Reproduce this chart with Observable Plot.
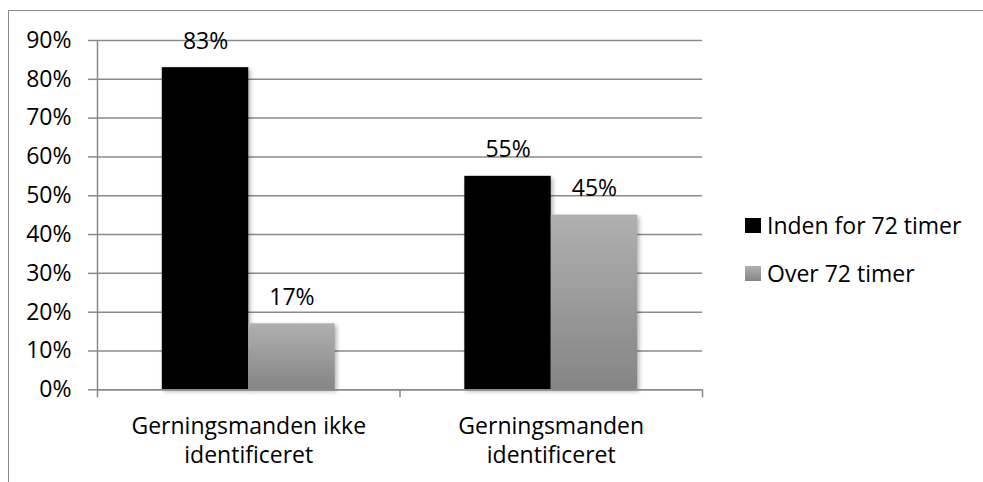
<!DOCTYPE html>
<html>
<head>
<meta charset="utf-8">
<script src="https://cdn.jsdelivr.net/npm/d3@7"></script>
<script src="https://cdn.jsdelivr.net/npm/@observablehq/plot@0.6"></script>
<style>
  html, body { margin: 0; padding: 0; background: #fff; }
  #wrap { position: relative; width: 983px; height: 482px; overflow: hidden; font-family: "Open Sans", sans-serif; }
  #frame { position: absolute; left: 8px; top: 10px; width: 1200px; height: 800px;
           border-left: 1.5px solid #8a8a8a; border-top: 1.5px solid #8a8a8a; pointer-events: none; }
  #legend { position: absolute; left: 745px; top: 201px; font-size: 23px; color: #000; }
  .item { display: flex; align-items: center; height: 48px; }
  .sw { width: 16px; height: 15px; margin-right: 6px; margin-top: 1px; }
  svg rect.bar { filter: drop-shadow(2px 2px 2px rgba(0,0,0,0.3)); }
</style>
</head>
<body>
<div id="wrap"><div id="chart"></div><div id="frame"></div><div id="legend"></div></div>
<script>
const categories = ["Gerningsmanden ikke\nidentificeret", "Gerningsmanden\nidentificeret"];
const seriesNames = ["Inden for 72 timer", "Over 72 timer"];
const within72 = [0.83, 0.55];
const over72 = [0.17, 0.45];
const yTicks = [0, 0.1, 0.2, 0.3, 0.4, 0.5, 0.6, 0.7, 0.8, 0.9];

const seriesValues = [within72, over72];
const fills = ["#000000", "url(#grayGrad)"];
const barFrac = 1 / 3.5;      // Excel gap width 150%
const gapFrac = 0.75 / 3.5;

const rows = [];
categories.forEach((c, i) => {
  seriesValues.forEach((vals, s) => {
    const x1 = i + gapFrac + s * barFrac;
    rows.push({cat: c, i, s, value: vals[i], x1, x2: x1 + barFrac, xc: x1 + barFrac / 2});
  });
});
const catRows = categories.map((c, i) => ({label: c, x: i + 0.5}));

const chart = Plot.plot({
  width: 983,
  height: 482,
  marginLeft: 97,
  marginRight: 281,
  marginTop: 40,
  marginBottom: 92.7,
  style: {fontFamily: "'Open Sans', sans-serif", fontSize: "23px", color: "#000", background: "transparent", overflow: "visible"},
  x: {type: "linear", domain: [0, categories.length], axis: null},
  y: {domain: [0, 0.9], axis: null},
  marks: [
    Plot.gridY(yTicks, {stroke: "#8a8a8a", strokeOpacity: 1, strokeWidth: 1.5}),
    Plot.axisY(yTicks, {label: null, tickFormat: d3.format(".0%"), tickSize: 9, tickPadding: 17, stroke: "#8a8a8a", strokeWidth: 1.5, fontSize: 23, fill: "#000"}),
    Plot.ruleX([0], {stroke: "#8a8a8a", strokeWidth: 1.5}),
    Plot.axisX(d3.range(categories.length + 1), {label: null, tickSize: 8, tickFormat: () => "", stroke: "#8a8a8a", strokeWidth: 1.5}),
    Plot.rectY(rows, {x1: "x1", x2: "x2", y1: 0, y2: "value", fill: d => fills[d.s], className: "bar"}),
    Plot.ruleY([0], {stroke: "#8a8a8a", strokeWidth: 1.5}),
    Plot.text(rows, {x: "xc", y: "value", text: d => d3.format(".0%")(d.value), lineAnchor: "bottom", dy: -19, fontSize: 23, fill: "#000"}),
    Plot.text(catRows, {x: "x", y: 0, text: "label", lineAnchor: "top", dy: 23, lineHeight: 1.27, fontSize: 23, fill: "#000"})
  ]
});

// gradient for the gray series
const svgNS = "http://www.w3.org/2000/svg";
const defs = document.createElementNS(svgNS, "defs");
defs.innerHTML = '<linearGradient id="grayGrad" x1="0" y1="0" x2="0" y2="1">' +
  '<stop offset="0" stop-color="#b0b0b0"/><stop offset="1" stop-color="#858585"/></linearGradient>';
chart.insertBefore(defs, chart.firstChild);
chart.querySelectorAll("g[aria-label='rect'] rect").forEach(r => r.classList.add("bar"));

document.getElementById("chart").appendChild(chart);

const legend = document.getElementById("legend");
seriesNames.forEach((name, s) => {
  const item = document.createElement("div");
  item.className = "item";
  const sw = document.createElement("div");
  sw.className = "sw";
  sw.style.background = s === 0 ? "#000" : "linear-gradient(#b0b0b0, #858585)";
  const t = document.createElement("span");
  t.textContent = name;
  item.appendChild(sw);
  item.appendChild(t);
  legend.appendChild(item);
});
</script>
</body>
</html>
